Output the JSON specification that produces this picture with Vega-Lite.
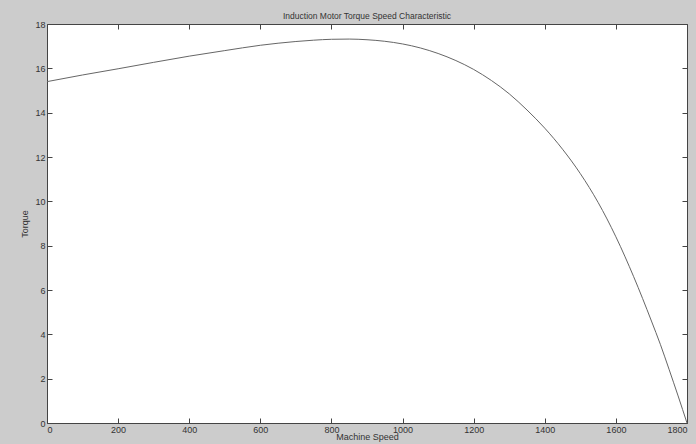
{
  "$schema": "https://vega.github.io/schema/vega-lite/v6.json",
  "width": 640,
  "height": 399,
  "autosize": {"type": "none"},
  "padding": {"left": 47, "top": 24, "right": 9, "bottom": 21},
  "background": "#cccccc",
  "config": {
    "view": {"fill": "white", "stroke": null},
    "font": "Liberation Sans",
    "axis": {
      "domainColor": "#444444",
      "domainWidth": 1,
      "tickColor": "#444444",
      "tickSize": -5,
      "grid": false,
      "labelFontSize": 9,
      "labelColor": "#333333",
      "labelPadding": 7,
      "titleFontSize": 9,
      "titleFontWeight": "normal",
      "titleColor": "#333333"
    }
  },
  "title": {
    "text": "Induction Motor Torque Speed Characteristic",
    "fontSize": 8.5,
    "fontWeight": "normal",
    "color": "#333333",
    "offset": 0
  },
  "data": {
    "values": [
      {"speed": 0, "torque": 15.4},
      {"speed": 100, "torque": 15.7},
      {"speed": 200, "torque": 15.98},
      {"speed": 300, "torque": 16.27},
      {"speed": 400, "torque": 16.55},
      {"speed": 500, "torque": 16.8},
      {"speed": 600, "torque": 17.04},
      {"speed": 700, "torque": 17.21},
      {"speed": 750, "torque": 17.27},
      {"speed": 800, "torque": 17.31},
      {"speed": 850, "torque": 17.32},
      {"speed": 900, "torque": 17.29},
      {"speed": 950, "torque": 17.22},
      {"speed": 1000, "torque": 17.1},
      {"speed": 1050, "torque": 16.92},
      {"speed": 1100, "torque": 16.67},
      {"speed": 1150, "torque": 16.35},
      {"speed": 1200, "torque": 15.95},
      {"speed": 1250, "torque": 15.45},
      {"speed": 1300, "torque": 14.85},
      {"speed": 1350, "torque": 14.12},
      {"speed": 1400, "torque": 13.3},
      {"speed": 1450, "torque": 12.35},
      {"speed": 1500, "torque": 11.25},
      {"speed": 1550, "torque": 9.95},
      {"speed": 1600, "torque": 8.4},
      {"speed": 1650, "torque": 6.6},
      {"speed": 1700, "torque": 4.6},
      {"speed": 1725, "torque": 3.55},
      {"speed": 1750, "torque": 2.4},
      {"speed": 1775, "torque": 1.22},
      {"speed": 1800, "torque": 0}
    ]
  },
  "layer": [
    {
      "mark": {"type": "line", "color": "#666666", "strokeWidth": 1, "interpolate": "monotone"},
      "encoding": {
        "x": {
          "field": "speed", "type": "quantitative",
          "scale": {"domain": [0, 1800], "nice": false, "zero": false},
          "axis": {"values": [0,200,400,600,800,1000,1200,1400,1600,1800], "format": "d", "title": "Machine Speed", "titlePadding": -2}
        },
        "y": {
          "field": "torque", "type": "quantitative",
          "scale": {"domain": [0, 18], "nice": false},
          "axis": {"values": [0,2,4,6,8,10,12,14,16,18], "format": "d", "title": "Torque", "titlePadding": 5}
        }
      }
    },
    {
      "mark": {"type": "line", "opacity": 0},
      "encoding": {
        "x": {
          "field": "speed", "type": "quantitative",
          "scale": {"domain": [0, 1800], "nice": false, "zero": false},
          "axis": {"orient": "top", "values": [0,200,400,600,800,1000,1200,1400,1600,1800], "labels": false, "title": null}
        },
        "y": {
          "field": "torque", "type": "quantitative",
          "scale": {"domain": [0, 18], "nice": false},
          "axis": {"orient": "right", "values": [0,2,4,6,8,10,12,14,16,18], "labels": false, "title": null}
        }
      }
    }
  ],
  "resolve": {"axis": {"x": "independent", "y": "independent"}}
}
